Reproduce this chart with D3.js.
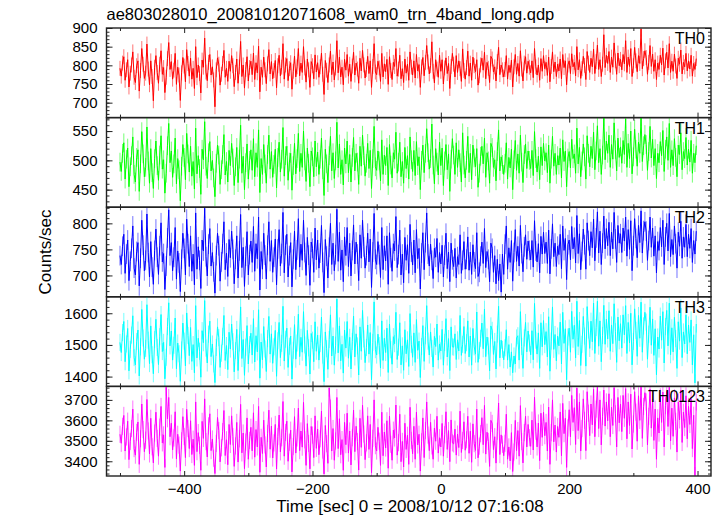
<!DOCTYPE html>
<html><head><meta charset="utf-8">
<script src="https://cdn.jsdelivr.net/npm/d3@7"></script>
<style>body{margin:0;background:#fff} text{font-family:"Liberation Sans",Arial,Helvetica,sans-serif;fill:#000}</style>
</head><body><svg id="c" width="723" height="516"></svg>
<script>
const title = "ae803028010_20081012071608_wam0_trn_4band_long.qdp";
const xLabel = "Time [sec] 0 = 2008/10/12 07:16:08";
const yLabel = "Counts/sec";
const panelNames = ["TH0","TH1","TH2","TH3","TH0123"];
const panelColors = ["#ff0000","#00ff00","#0000ff","#00ffff","#ff00ff"];
const xDomain = [-521, 421];
const xMajorTicks = [-400,-200,0,200,400];
const xMinorTicks = [-500,-300,-100,100,300];
const yDomains = [[660,900],[420,573],[659,831],[1369,1652],[3328,3766]];
const yMajorTicks = [[700,750,800,850,900],[450,500,550],[700,750,800],[1400,1500,1600],[3400,3500,3600,3700]];
const yMinorStep = [10,10,10,20,20];
const errHalf = [20,16,19,27,42];
const tStart = -500, tStep = 2;

const th0 = [
792,771,806,823,760,788,815,742,779,801,836,768,754,799,812,731,786,845,803,765,
779,857,790,748,812,770,705,795,826,781,752,803,839,776,794,727,768,818,861,789,
810,763,787,832,749,795,774,706,780,821,798,756,842,805,771,819,763,792,738,850,
767,801,778,726,814,795,873,782,759,808,829,774,796,761,689,788,820,803,747,776,
805,840,768,792,757,811,784,826,799,743,781,817,752,796,864,770,801,739,789,823,
758,794,811,775,833,762,807,780,851,729,795,768,822,788,751,804,842,777,810,764,
786,813,740,799,827,772,795,858,763,801,818,759,791,807,736,784,825,769,796,845,
772,806,781,850,793,755,817,788,741,810,799,764,828,782,807,768,796,833,776,722,
813,787,754,801,838,775,809,761,793,866,780,822,769,795,748,816,787,829,771,803,
757,798,835,774,806,790,752,819,785,840,801,766,789,824,778,812,741,797,858,782,
775,811,793,757,832,769,804,783,816,749,823,786,762,808,797,845,771,790,827,764,
791,754,817,779,803,760,836,795,774,812,766,829,785,802,741,796,821,772,808,853,
809,777,799,863,784,753,815,790,768,827,784,815,750,793,820,778,805,738,797,832,
803,769,826,781,812,791,757,844,786,763,794,838,771,806,760,822,799,783,815,747,
772,801,819,787,835,764,808,792,754,824,817,782,796,758,810,848,775,801,788,769,
789,826,763,800,781,814,742,796,829,776,805,771,839,790,758,806,823,779,811,795,
780,812,767,845,796,774,801,760,818,784,826,791,808,773,822,756,797,836,783,809,
770,803,785,817,764,829,794,812,748,801,812,778,831,796,808,772,850,788,815,765,
791,824,800,762,837,806,781,819,796,843,778,810,854,789,815,770,803,882,794,827,
805,837,781,822,795,860,812,776,833,799,816,788,829,804,866,781,822,797,845,770,
799,848,812,783,826,805,897,791,818,839,821,776,808,853,797,830,784,815,762,806,
789,827,801,846,774,812,835,793,858,781,811,784,830,798,765,819,803,841,777,808,
796,832,785,812,790,827,771,805,789,818];

const th1 = [
497,481,512,530,468,502,521,455,489,508,540,476,463,505,518,447,494,549,511,472,
488,557,499,461,520,479,452,503,533,491,466,509,542,485,501,444,478,525,563,496,
516,471,494,538,460,503,484,431,490,527,505,467,546,511,480,524,473,498,451,555,
477,508,486,442,519,501,566,490,469,513,532,482,500,470,438,495,526,509,459,484,
510,544,475,498,463,517,491,529,504,457,489,522,462,502,560,478,507,450,496,528,
468,500,518,483,537,472,513,488,552,445,503,476,527,494,461,510,543,485,515,471,
493,519,453,505,531,480,502,556,473,508,524,466,497,512,449,491,529,477,503,546,
481,512,488,550,499,464,521,495,455,516,506,472,533,489,514,476,502,538,484,440,
519,494,462,508,541,482,513,469,499,565,487,528,476,501,458,521,494,533,479,510,
463,505,539,482,512,497,459,524,490,543,508,473,495,529,486,517,452,503,558,489,
483,516,499,465,535,476,509,491,522,457,527,492,470,513,502,548,478,497,531,472,
498,461,522,486,508,468,540,501,481,517,474,532,491,506,450,500,526,479,512,554,
513,485,503,562,492,460,520,497,475,531,491,521,457,499,527,484,511,447,502,537,
509,476,530,488,518,496,463,547,492,470,500,541,479,512,467,526,504,489,520,454,
478,507,524,494,538,471,513,499,461,529,522,488,501,465,515,552,482,506,493,476,
495,530,468,505,487,519,450,501,534,483,511,478,543,497,462,510,528,486,516,500,
486,517,474,549,503,480,507,467,523,491,529,499,513,479,526,461,502,541,490,512,
476,508,492,521,470,535,498,516,455,504,515,487,536,503,511,478,555,494,522,472,
499,528,506,468,542,512,489,524,503,548,484,516,559,496,520,476,509,574,501,533,
512,543,488,527,502,564,518,482,538,505,523,495,534,510,571,488,529,503,550,477,
506,553,519,490,531,512,575,498,525,544,527,483,515,558,504,536,491,520,469,512,
496,532,508,551,481,519,540,500,563,488,518,491,537,505,472,526,510,547,484,515,
503,539,492,519,497,534,478,512,496,525];

const th2 = [
738,721,756,779,704,741,768,690,727,752,795,714,701,746,763,680,733,806,758,709,
729,818,744,697,765,716,683,748,789,735,702,757,801,726,742,673,718,772,826,738,
763,709,735,792,693,747,724,669,731,781,752,701,808,761,717,776,708,741,682,820,
712,755,729,675,768,747,829,736,699,760,790,718,744,707,666,738,781,757,689,726,
761,803,711,743,698,769,734,785,750,684,731,776,695,747,817,715,754,679,737,784,
701,740,766,725,794,708,761,732,812,672,746,712,781,739,693,758,803,727,767,706,
735,770,682,751,788,718,742,821,705,758,779,697,738,763,678,731,785,711,749,809,
716,760,729,806,744,700,773,739,681,764,752,706,791,730,768,714,743,796,725,667,
769,737,695,754,800,721,762,709,740,827,727,783,710,749,688,774,738,792,717,762,
699,748,797,722,764,741,690,778,733,806,755,714,738,781,726,770,677,745,819,731,
721,765,740,696,792,711,757,728,776,683,782,734,708,761,747,813,715,740,787,701,
741,686,773,729,759,704,798,745,720,768,705,788,732,752,674,743,782,711,763,820,
741,718,760,729,694,752,735,771,706,744,722,758,697,739,781,713,745,688,762,730,
717,752,695,736,721,778,704,729,765,712,731,774,710,745,702,759,726,713,782,698,
706,737,764,723,790,715,746,731,688,762,752,706,738,684,731,690,722,668,741,702,
760,795,712,753,725,767,689,744,788,727,756,718,796,742,707,755,778,731,766,748,
730,767,716,805,747,726,761,705,775,741,783,742,764,723,787,703,751,799,736,762,
717,756,740,779,713,795,748,771,692,759,768,730,794,751,773,724,815,742,780,711,
746,789,759,712,801,767,738,784,753,808,728,772,822,743,785,721,762,814,751,790,
757,802,738,783,751,821,770,725,796,762,780,744,791,766,812,737,788,750,805,709,
757,809,771,734,796,763,824,743,786,803,785,729,767,812,754,791,737,776,705,765,
748,792,755,806,721,774,800,747,819,736,769,740,795,761,714,783,756,804,733,774,
754,798,736,779,752,790,725,767,741,785];

const th3 = [
1508,1476,1539,1574,1447,1503,1552,1418,1486,1531,1592,1460,1437,1511,1547,1402,1494,1612,1522,1455,
1489,1627,1515,1441,1560,1469,1409,1517,1581,1492,1438,1526,1596,1479,1508,1393,1461,1558,1633,1497,
1544,1452,1499,1585,1425,1506,1472,1385,1484,1569,1512,1434,1601,1530,1466,1555,1448,1501,1412,1624,
1459,1521,1480,1398,1545,1507,1640,1490,1443,1534,1575,1463,1503,1440,1381,1492,1557,1523,1429,1474,
1527,1593,1451,1498,1422,1540,1487,1566,1510,1415,1482,1549,1419,1506,1620,1457,1517,1404,1493,1561,
1440,1501,1537,1468,1583,1446,1529,1478,1611,1395,1509,1453,1558,1487,1416,1520,1590,1471,1535,1442,
1494,1546,1401,1513,1571,1460,1505,1622,1449,1518,1553,1429,1496,1528,1392,1483,1564,1455,1506,1597,
1463,1524,1477,1605,1500,1433,1546,1491,1408,1536,1515,1447,1573,1480,1531,1452,1504,1588,1468,1384,
1541,1488,1423,1517,1595,1465,1528,1436,1499,1645,1475,1560,1450,1502,1411,1547,1490,1574,1458,1524,
1424,1511,1591,1462,1535,1497,1405,1557,1480,1609,1519,1444,1492,1563,1471,1539,1390,1508,1636,1485,
1468,1534,1498,1427,1576,1451,1521,1476,1553,1413,1566,1485,1439,1526,1504,1603,1454,1493,1570,1437,
1497,1420,1548,1472,1516,1432,1599,1502,1461,1538,1445,1580,1483,1512,1397,1495,1561,1448,1529,1624,
1512,1468,1541,1489,1430,1527,1495,1566,1452,1503,1481,1549,1436,1508,1583,1462,1520,1419,1557,1494,
1493,1535,1454,1516,1481,1593,1467,1502,1558,1473,1507,1576,1462,1528,1436,1552,1494,1471,1604,1445,
1482,1521,1569,1488,1613,1463,1525,1497,1418,1560,1546,1470,1511,1424,1534,1622,1459,1515,1486,1453,
1491,1548,1452,1501,1430,1478,1412,1465,1440,1522,1529,1452,1605,1495,1426,1522,1571,1478,1544,1506,
1469,1545,1453,1631,1515,1471,1538,1426,1570,1494,1577,1501,1542,1462,1589,1417,1512,1620,1486,1533,
1450,1528,1497,1572,1440,1603,1505,1551,1390,1525,1553,1477,1606,1518,1562,1459,1638,1495,1577,1435,
1502,1590,1528,1433,1621,1547,1489,1575,1510,1632,1473,1555,1638,1496,1576,1447,1530,1625,1502,1581,
1519,1608,1480,1563,1504,1630,1542,1445,1588,1513,1567,1490,1595,1532,1624,1473,1571,1506,1600,1437,
1511,1614,1546,1464,1593,1521,1635,1477,1560,1603,1572,1455,1534,1619,1499,1582,1467,1551,1406,1525,
1487,1591,1515,1605,1443,1558,1609,1497,1632,1469,1554,1478,1587,1520,1426,1573,1512,1617,1460,1541,
1503,1595,1472,1563,1508,1579,1437,1532,1380,1566];

const th0123 = [
3532,3488,3571,3624,3450,3519,3596,3408,3497,3560,3655,3462,3430,3541,3592,3385,3510,3680,3555,3447,
3503,3702,3548,3436,3610,3471,3392,3538,3640,3512,3425,3567,3668,3490,3529,3370,3762,3608,3712,3520,
3586,3455,3514,3642,3412,3532,3479,3352,3500,3618,3521,3418,3654,3560,3462,3598,3433,3508,3380,3690,
3447,3540,3478,3356,3595,3512,3705,3496,3421,3573,3632,3452,3509,3415,3340,3487,3614,3550,3397,3466,
3545,3648,3428,3505,3383,3580,3482,3622,3520,3375,3475,3590,3396,3510,3678,3441,3538,3364,3494,3612,
3410,3502,3566,3451,3637,3420,3555,3470,3668,3346,3517,3438,3601,3480,3372,3536,3650,3459,3572,3416,
3490,3580,3362,3521,3626,3446,3515,3692,3425,3541,3596,3400,3493,3552,3348,3472,3618,3440,3514,3660,
3452,3548,3469,3688,3505,3380,3584,3487,3363,3570,3528,3418,3622,3463,3557,3432,3510,3645,3455,3338,
3575,3486,3390,3758,3660,3450,3560,3405,3499,3712,3462,3608,3432,3506,3356,3590,3481,3635,3440,3548,
3382,3515,3650,3447,3571,3496,3357,3610,3468,3674,3533,3408,3490,3622,3458,3580,3344,3512,3700,3476,
3450,3566,3498,3380,3640,3427,3543,3465,3598,3366,3621,3483,3405,3552,3514,3675,3430,3491,3630,3398,
3497,3372,3586,3458,3527,3385,3664,3502,3437,3571,3410,3640,3480,3532,3352,3495,3612,3418,3550,3690,
3528,3452,3590,3475,3410,3562,3498,3620,3440,3515,3470,3585,3425,3530,3642,3458,3550,3398,3602,3490,
3485,3557,3430,3533,3467,3645,3443,3502,3593,3454,3505,3620,3439,3547,3395,3583,3486,3453,3655,3417,
3474,3535,3613,3481,3673,3435,3542,3497,3375,3600,3585,3457,3520,3391,3547,3685,3433,3529,3483,3427,
3488,3630,3410,3470,3402,3540,3350,3445,3600,3452,3550,3425,3672,3496,3392,3540,3620,3470,3580,3515,
3473,3601,3455,3713,3547,3470,3587,3403,3635,3517,3640,3525,3590,3450,3665,3385,3540,3700,3495,3577,
3445,3570,3517,3641,3427,3683,3535,3610,3370,3563,3652,3520,3722,3590,3662,3482,3758,3550,3690,3450,
3560,3705,3600,3452,3740,3635,3525,3680,3578,3752,3520,3655,3765,3560,3700,3480,3620,3748,3572,3690,
3598,3730,3520,3664,3575,3760,3632,3470,3712,3588,3680,3545,3722,3610,3755,3510,3690,3575,3728,3460,
3582,3740,3640,3498,3720,3600,3766,3512,3668,3735,3690,3480,3620,3752,3562,3705,3502,3655,3410,3612,
3538,3715,3590,3738,3470,3672,3742,3570,3762,3500,3660,3522,3710,3595,3445,3690,3602,3748,3492,3640,
3565,3720,3510,3668,3580,3705,3462,3625,3330,3690];

const seriesValues = [th0, th1, th2, th3, th0123];

const plotLeft = 106.5, plotRight = 711, plotTop = 28, plotBottom = 476;
const ph = (plotBottom - plotTop) / panelNames.length;
const svg = d3.select("#c");
const x = d3.scaleLinear().domain(xDomain).range([plotLeft, plotRight]);
const fontSize = 15;
const fontFam = '"Liberation Sans",Arial,sans-serif';

seriesValues.forEach((vals, p) => {
  const y0 = plotTop + p * ph, y1 = y0 + ph;
  const y = d3.scaleLinear().domain(yDomains[p]).range([y1, y0]);
  const g = svg.append("g");
  const clipId = "clip" + p;
  svg.append("clipPath").attr("id", clipId).append("rect")
    .attr("x", plotLeft).attr("y", y0).attr("width", plotRight - plotLeft).attr("height", ph);
  const data = vals.map((v, i) => ({t: tStart + i * tStep, v}));
  const col = panelColors[p];
  const dg = g.append("g").attr("clip-path", `url(#${clipId})`);
  dg.append("path")
    .attr("d", data.map(d => `M${x(d.t)},${y(d.v - errHalf[p])}V${y(d.v + errHalf[p])}`).join(""))
    .attr("stroke", col).attr("stroke-opacity", 0.55).attr("stroke-width", 1).attr("fill", "none");
  dg.append("path").datum(data)
    .attr("d", d3.line().x(d => x(d.t)).y(d => y(d.v)))
    .attr("stroke", col).attr("stroke-width", 1).attr("fill", "none");

  const [lo, hi] = yDomains[p];
  const minor = d3.range(Math.ceil(lo / yMinorStep[p]) * yMinorStep[p], hi + 0.001, yMinorStep[p]);
  const ax = (axisFn, xpos, tv, size, labels) => {
    const a = axisFn(y).tickValues(tv).tickSize(-size).tickPadding(9)
      .tickFormat(labels ? d3.format("d") : () => "");
    const gg = g.append("g").attr("transform", `translate(${xpos},0)`).call(a);
    gg.select(".domain").remove();
    gg.selectAll("line").attr("stroke", "#222").attr("stroke-width", 1);
    gg.selectAll("text").attr("font-size", fontSize).attr("font-family", fontFam).attr("fill", "#000");
  };
  ax(d3.axisLeft, plotLeft, minor, 3, false);
  ax(d3.axisLeft, plotLeft, yMajorTicks[p], 6, true);
  ax(d3.axisRight, plotRight, minor, 3, false);
  ax(d3.axisRight, plotRight, yMajorTicks[p], 6, false);

  const xa = (axisFn, ypos, tv, size, labels) => {
    const a = axisFn(x).tickValues(tv).tickSize(-size).tickPadding(7)
      .tickFormat(labels ? (d => d3.format("d")(d).replace("-", "\u2212")) : () => "");
    const gg = g.append("g").attr("transform", `translate(0,${ypos})`).call(a);
    gg.select(".domain").remove();
    gg.selectAll("line").attr("stroke", "#222").attr("stroke-width", 1);
    gg.selectAll("text").attr("font-size", fontSize).attr("font-family", fontFam).attr("fill", "#000");
  };
  const last = p === panelNames.length - 1;
  xa(d3.axisBottom, y1, xMinorTicks, 3, false);
  xa(d3.axisBottom, y1, xMajorTicks, 5, last);
  xa(d3.axisTop, y0, xMinorTicks, 3, false);
  xa(d3.axisTop, y0, xMajorTicks, 5, false);

  g.append("rect").attr("x", plotLeft).attr("y", y0).attr("width", plotRight - plotLeft).attr("height", ph)
    .attr("fill", "none").attr("stroke", "#222").attr("stroke-width", 1.4);

  g.append("text").attr("x", 705).attr("y", y0 + 16).attr("text-anchor", "end")
    .attr("font-size", 16).text(panelNames[p]);
});

svg.append("text").attr("x", plotLeft).attr("y", 20).attr("font-size", 16.5).text(title);
svg.append("text").attr("x", 410).attr("y", 512).attr("text-anchor", "middle").attr("font-size", 17).text(xLabel);
svg.append("text").attr("transform", `translate(51,${(plotTop + plotBottom) / 2}) rotate(-90)`)
  .attr("text-anchor", "middle").attr("font-size", 17).text(yLabel);
</script></body></html>
